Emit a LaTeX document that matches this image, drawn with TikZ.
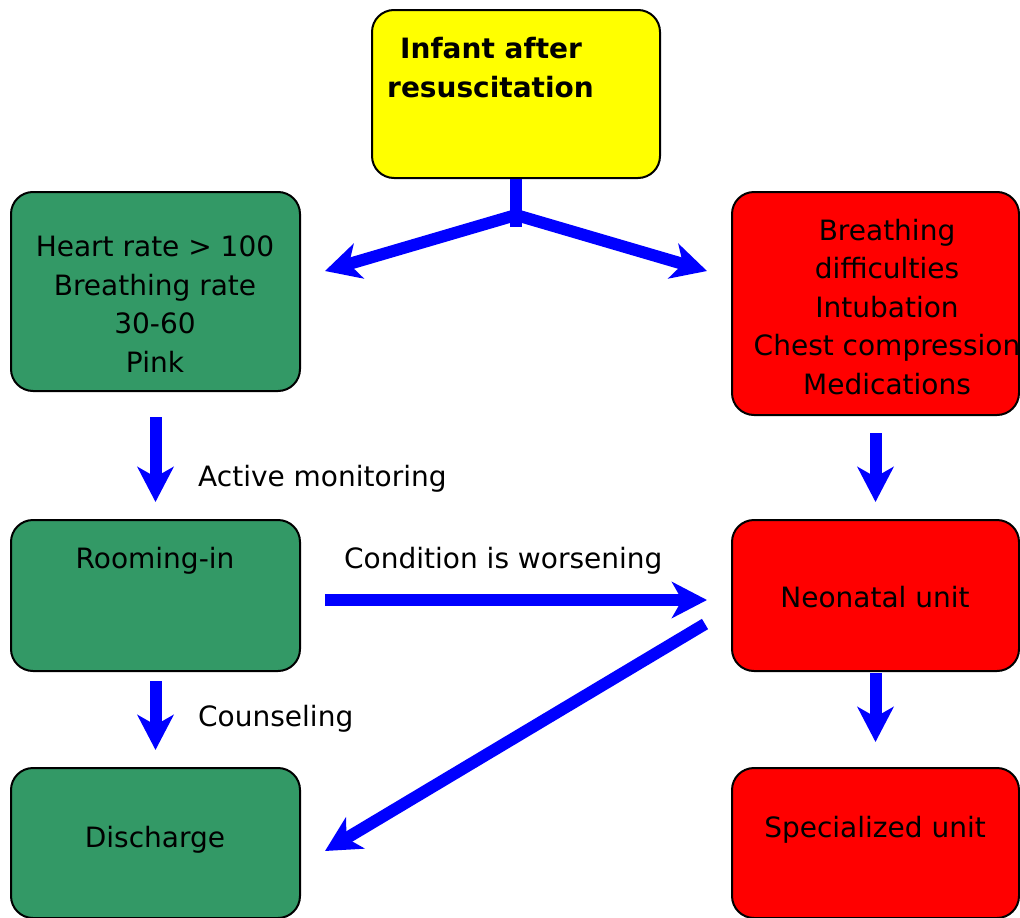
\documentclass[tikz,border=0pt]{standalone}
\usepackage{fontspec}
\setmainfont{DejaVu Sans}
\usetikzlibrary{arrows.meta,calc}
\definecolor{boxgreen}{HTML}{339966}
\definecolor{boxred}{HTML}{FF0000}
\definecolor{boxyellow}{HTML}{FFFF00}
\definecolor{flowblue}{HTML}{0000FF}
\begin{document}
\begin{tikzpicture}[x=1pt,y=-1pt,
  >={Stealth[length=35pt,width=36pt,inset=10pt]},
  box/.style={draw=black, line width=2pt, rounded corners=22pt, anchor=north west, inner sep=0pt, minimum width=288pt},
  lbl/.style={font=\fontsize{28}{38.5}\selectfont, align=center, inner sep=0pt, anchor=base, text=black},
  flowline/.style={draw=flowblue, line width=12pt},
  flow/.style={flowline, ->},
]
\useasboundingbox (0,0) rectangle (1020,918);
% boxes
\node[box, fill=boxyellow, minimum height=168pt] (inf) at (371,9) {};
\node[box, fill=boxgreen, minimum width=289pt, minimum height=199pt] (vital) at (10,191) {};
\node[box, fill=boxred, minimum width=287pt, minimum height=223pt] (crit) at (731,191) {};
\node[box, fill=boxgreen, minimum width=289pt, minimum height=151pt] (room) at (10,519) {};
\node[box, fill=boxred, minimum width=287pt, minimum height=151pt] (neo) at (731,519) {};
\node[box, fill=boxgreen, minimum width=289pt, minimum height=150pt] (dis) at (10,767) {};
\node[box, fill=boxred, minimum width=287pt, minimum height=150pt] (spec) at (731,767) {};
% texts (base anchor = baseline of the last line)
\node[lbl, font=\fontsize{28}{39}\selectfont\bfseries, align=left, anchor=base west] (tinf) at (387,97) {\hspace*{13pt}Infant after\\resuscitation};
\node[lbl] (tvital) at (155,372) {Heart rate > 100\\Breathing rate\\30-60\\Pink};
\node[lbl] (tcrit) at (887,394) {Breathing\\difficulties\\Intubation\\Chest compression\\Medications};
\node[lbl] (troom) at (155,568) {Rooming-in};
\node[lbl] (tneo) at (875,607) {Neonatal unit};
\node[lbl] (tdis) at (155,847) {Discharge};
\node[lbl] (tspec) at (875,837) {Specialized unit};
\node[lbl, anchor=base west] (tact) at (198,486) {Active monitoring};
\node[lbl, anchor=base west] (tcond) at (344,568) {Condition is worsening};
\node[lbl, anchor=base west] (tcoun) at (198,726) {Counseling};
% connectors
\coordinate (split) at ($(inf.south)+(0,36)$);
\draw[flowline] (inf.south) -- ($(inf.south)+(0,48)$);
\draw[flowline, <->, line join=miter] ($(vital.east)+(24,-20.5)$) -- (split) -- ($(crit.west)+(-24,-32.5)$);
\draw[flow] ($(vital.south)+(0,25)$) -- ($(room.north)+(0,-17)$);
\draw[flow] ($(crit.south)+(0,17)$) -- ($(neo.north)+(0,-17)$);
\draw[flow] ($(room.south)+(0,9)$) -- ($(dis.north)+(0,-17)$);
\draw[flow] ($(neo.south)+(0,1)$) -- ($(spec.north)+(0,-25)$);
\draw[flow] ($(room.east)+(24,4.5)$) -- ($(neo.west)+(-24,4.5)$);
\draw[flow] ($(neo.west)+(-26,28.5)$) -- ($(dis.east)+(24,8)$);
\end{tikzpicture}
\end{document}
